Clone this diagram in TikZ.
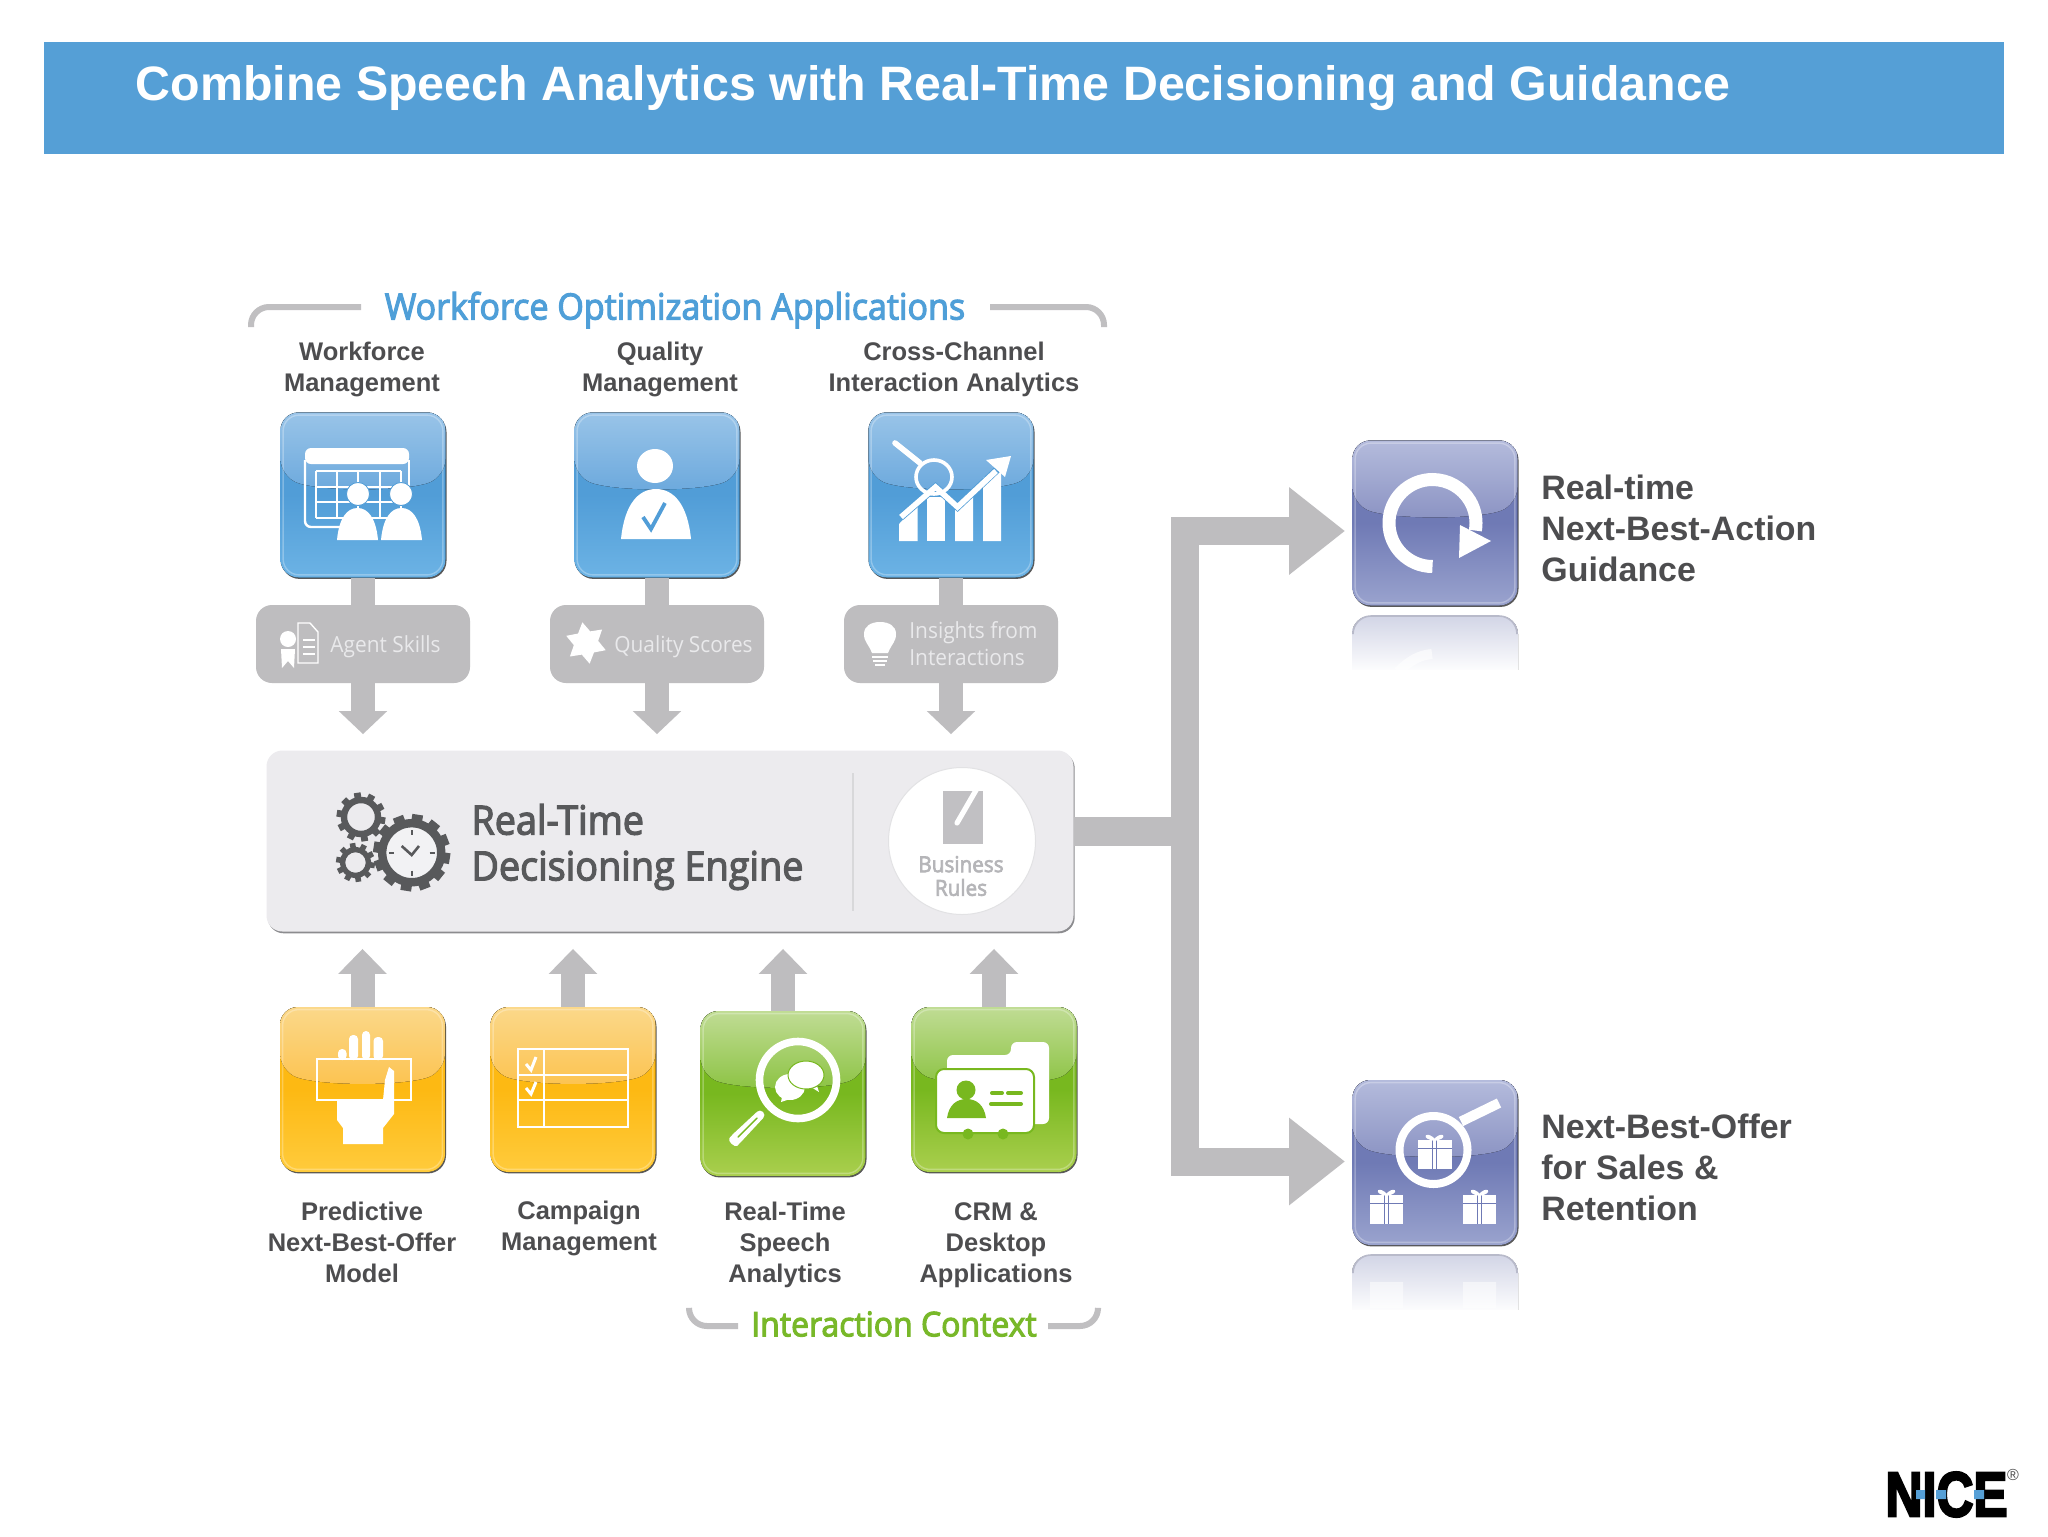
\documentclass[tikz,border=0pt]{standalone}
\usepackage{fontspec}
\setmainfont{Liberation Sans}
\newfontfamily\segfont[FakeStretch=.94]{Open Sans}
\newfontfamily\segsemi[FakeStretch=.94,FakeBold=3]{Open Sans}
\newfontfamily\logofont[BoldFeatures={FakeBold=4}]{Liberation Sans}
\usetikzlibrary{arrows.meta,calc,shadows,shapes.geometric}
\definecolor{bannerblue}{HTML}{559FD6}
\definecolor{stemgray}{HTML}{BEBDBF}
\definecolor{labelgray}{HTML}{4D4D4F}
\definecolor{enginefill}{HTML}{ECEBEE}
\definecolor{bluemid}{HTML}{519DD7}
\definecolor{orangemid}{HTML}{FDB913}
\definecolor{greenmid}{HTML}{78B81F}
\definecolor{purplemid}{HTML}{6F7AB5}
\definecolor{gearcol}{HTML}{58595B}
\definecolor{bluetop}{HTML}{99C4E8}\definecolor{bluegl}{HTML}{6CA9DD}\definecolor{bluebot}{HTML}{6CB3E5}
\definecolor{orangetop}{HTML}{FBD88A}\definecolor{orangegl}{HTML}{FCC350}\definecolor{orangebot}{HTML}{FFCB3C}
\definecolor{greentop}{HTML}{C0DC94}\definecolor{greengl}{HTML}{8CC343}\definecolor{greenbot}{HTML}{AACF4E}
\definecolor{purpletop}{HTML}{B4BBDC}\definecolor{purplegl}{HTML}{8B93C3}\definecolor{purplebot}{HTML}{9AA3CE}
\definecolor{graytxt}{HTML}{E9E9EB}\definecolor{bracketgray}{HTML}{C0BFC1}
\definecolor{headblue}{HTML}{4F9FD8}\definecolor{headgreen}{HTML}{78B829}
\definecolor{engshadow}{HTML}{8C8C8F}\definecolor{reflecttop}{HTML}{D2D5E6}\definecolor{reflectrim}{HTML}{B8BACA}
\definecolor{clockface}{HTML}{F2F2F4}\definecolor{divider}{HTML}{D8D8DA}
\definecolor{ringgray}{HTML}{E2E2E4}\definecolor{notegray}{HTML}{C1C0C3}\definecolor{rulestxt}{HTML}{B5B5B8}
\tikzset{
  appicon/.style n args={4}{rounded corners=9pt,minimum width=82.5pt,minimum height=82.5pt,inner sep=0pt,
    drop shadow={shadow xshift=.5pt,shadow yshift=-.7pt,fill=black!65,opacity=1},
    path picture={
      \fill[top color=#3,bottom color=#4,middle color=#3] (path picture bounding box.south west) rectangle (path picture bounding box.north east);
      \fill[top color=#1,bottom color=#2]
        ($(path picture bounding box.west)+(0,9pt)$) .. controls ($(path picture bounding box.center)+(-20pt,1.7pt)$) and ($(path picture bounding box.center)+(20pt,1.7pt)$) .. ($(path picture bounding box.east)+(0,9pt)$)
        -- (path picture bounding box.north east) -- (path picture bounding box.north west) -- cycle;
      \draw[white,opacity=.28,line width=.7pt,rounded corners=8pt] ($(path picture bounding box.south west)+(1.3pt,1.3pt)$) rectangle ($(path picture bounding box.north east)+(-1.3pt,-1.3pt)$);
    }},
  blueicon/.style={appicon={bluetop}{bluegl}{bluemid}{bluebot}},
  orangeicon/.style={appicon={orangetop}{orangegl}{orangemid}{orangebot}},
  greenicon/.style={appicon={greentop}{greengl}{greenmid}{greenbot}},
  purpleicon/.style={appicon={purpletop}{purplegl}{purplemid}{purplebot}},
  lab/.style={align=center,inner sep=0pt,text=labelgray,font=\bfseries\fontsize{12.75}{15.4}\selectfont},
  rightlab/.style={align=left,anchor=west,inner sep=0pt,text=labelgray,font=\bfseries\fontsize{16.95}{20.5}\selectfont},
  graybox/.style={fill=stemgray,rounded corners=8pt,minimum width=107pt,minimum height=39pt,inner sep=0pt},
  graytext/.style={anchor=west,inner sep=0pt,text=graytxt,font=\segfont\fontsize{11.1}{13.6}\selectfont,align=left},
  stemline/.style={draw=stemgray,line width=12pt},
  fatdown/.style={draw=stemgray,line width=12pt,shorten >=8pt,-{Triangle[width=23.5pt,length=11.5pt,fill=stemgray]}},
  fatup/.style={draw=stemgray,line width=12pt,shorten >=8.5pt,-{Triangle[width=23.5pt,length=12.5pt,fill=stemgray]}},
  bigarrow/.style={draw=stemgray,line width=14pt,shorten >=3.5pt,-{Triangle[width=42pt,length=28pt,fill=stemgray]}},
  bracketline/.style={draw=bracketgray,line width=3pt,rounded corners=9pt},
  whiteln/.style={draw=white,line width=1.2pt},
}
\newcommand\bellbody[5]{% x1 x2 ytop ybot options
  \pgfmathsetmacro\bw{#2-#1}\pgfmathsetmacro\bh{#4-#3}
  \fill[#5] (#1,#4) .. controls ({#1+.05*\bw},{#3+.3*\bh}) and ({#1+.25*\bw},#3) .. ({(#1+#2)/2},#3)
    .. controls ({#2-.25*\bw},#3) and ({#2-.05*\bw},{#3+.3*\bh}) .. (#2,#4) -- cycle;}
\newcommand\gearring[7]{% cx cy rmid ringwidth(pt) rtooth n toothwidth(pt)
  \draw[gearcol,line width=#4pt] (#1,#2) circle[radius=#3];
  \foreach \k in {1,...,#6}{\draw[gearcol,line width=#7pt] (#1,#2) ++({\k*360/#6+9}:#3) -- ++({\k*360/#6+9}:{#5-#3});}}
\newcommand\giftglyph[5]{% cx top w h ribbon colour
  \fill[white] ({#1-#3/2},#2) rectangle ({#1+#3/2},{#2+#4});
  \draw[#5,line width=.5pt] ({#1-#3/2},{#2+.28*#4}) -- ({#1+#3/2},{#2+.28*#4});
  \draw[#5,line width=.5pt] ({#1-2},#2) -- ({#1-2},{#2+#4}) ({#1+2},#2) -- ({#1+2},{#2+#4});
  \draw[white,line width=1pt] (#1,#2) .. controls ({#1-.2*#3},{#2-.9*.3*#4}) and ({#1-.4*#3},{#2-.1*#4}) .. (#1,#2);
  \draw[white,line width=1pt] (#1,#2) .. controls ({#1+.2*#3},{#2-.9*.3*#4}) and ({#1+.4*#3},{#2-.1*#4}) .. (#1,#2);}
\begin{document}
\begin{tikzpicture}[x=.5pt,y=-.5pt]
\useasboundingbox (0,0) rectangle (2048,1536);
\fill[white] (0,0) rectangle (2048,1536);
% banner
\node[fill=bannerblue,minimum width=980pt,minimum height=56pt,inner sep=0pt] (banner) at (1024,98) {};
\node[anchor=west,inner sep=0pt,text=white,font=\bfseries\fontsize{24.16}{28}\selectfont] (title) at (135.5,88) {Combine Speech Analytics with Real-Time Decisioning and Guidance};
% top bracket
\draw[bracketline] (251,327) -- (251,307) -- (361,307);
\draw[bracketline] (990,307) -- (1104,307) -- (1104,327);
\node[inner sep=0pt,text=headblue,font=\segsemi\fontsize{18.1}{20}\selectfont] (wfotitle) at (675,310) {Workforce Optimization Applications};
% labels
\node[lab] (lwfm) at (362,369.5) {Workforce\\Management};
\node[lab] (lqm) at (660,369.5) {Quality\\Management};
\node[lab] (lcc) at (954,369.5) {Cross-Channel\\Interaction Analytics};
% icons
\node[blueicon] (wfm) at (363,495) {};
\node[blueicon] (qm) at (657,495) {};
\node[blueicon] (cc) at (951,495) {};
% gray boxes
\node[graybox] (agent) at (363,644) {};
\node[graybox] (qscores) at (657,644) {};
\node[graybox] (insights) at (951,644) {};
% engine
\node[fill=enginefill,rounded corners=8pt,minimum width=403.5pt,minimum height=90.5pt,inner sep=0pt,
  drop shadow={shadow xshift=.6pt,shadow yshift=-.9pt,fill=engshadow,opacity=1}] (engine) at (670,841) {};
% connectors down
\draw[stemline] (wfm.south) -- (wfm.south |- agent.north);
\draw[stemline] (qm.south) -- (qm.south |- qscores.north);
\draw[stemline] (cc.south) -- (cc.south |- insights.north);
\draw[fatdown] (agent.south) -- (agent.south |- engine.north);
\draw[fatdown] (qscores.south) -- (qscores.south |- engine.north);
\draw[fatdown] (insights.south) -- (insights.south |- engine.north);
% bottom icons
\node[orangeicon] (pred) at (362.5,1089.5) {};
\node[orangeicon] (camp) at (573,1089.5) {};
\node[greenicon] (rtsa) at (783,1093.5) {};
\node[greenicon] (crm) at (994,1089.5) {};
\draw[fatup] (pred.north) -- (pred.north |- engine.south);
\draw[fatup] (camp.north) -- (camp.north |- engine.south);
\draw[fatup] (rtsa.north) -- (rtsa.north |- engine.south);
\draw[fatup] (crm.north) -- (crm.north |- engine.south);
\node[lab] (lpred) at (362,1242.5) {Predictive\\Next-Best-Offer\\Model};
\node[lab,anchor=north] (lcamp) at (579,1201) {Campaign\\Management};
\node[lab] (lrtsa) at (785,1245) {Real-Time\\Speech\\Analytics};
\node[lab] (lcrm) at (996,1245) {CRM \&\\Desktop\\Applications};
% bottom bracket
\draw[bracketline] (689,1309) -- (689,1326) -- (738,1326);
\draw[bracketline] (1048,1326) -- (1098,1326) -- (1098,1309);
\node[inner sep=0pt,text=headgreen,font=\segsemi\fontsize{17}{20}\selectfont] (ictitle) at (894,1324) {Interaction Context};
% right icons, reflections
\fill[top color=reflecttop,bottom color=white] (1352,673) [rounded corners=9pt] -- (1352,616) -- (1518,616) [sharp corners] -- (1518,673) -- cycle;
\fill[top color=reflecttop,bottom color=white] (1352,1313) [rounded corners=9pt] -- (1352,1255) -- (1518,1255) [sharp corners] -- (1518,1313) -- cycle;
\draw[reflectrim,line width=.8pt,rounded corners=9pt] (1353,632) -- (1353,616) -- (1517,616) -- (1517,632);
\draw[reflectrim,line width=.8pt,rounded corners=9pt] (1353,1271) -- (1353,1255) -- (1517,1255) -- (1517,1271);
\fill[white,opacity=.5] (1370,1282) rectangle (1403,1308) (1463,1282) rectangle (1496,1308);
\draw[white,opacity=.6,line width=5pt] (1398,672) .. controls (1410,660) and (1420,655) .. (1432,654);
\fill[white] (1348,670) rectangle (1522,677);
\fill[white] (1348,1310) rectangle (1522,1317);
\node[purpleicon] (nba) at (1435,523) {};
\node[purpleicon] (nbo) at (1435,1162.5) {};
\node[rightlab] (lnba) at (1541,528) {Real-time\\Next-Best-Action\\Guidance};
\node[rightlab] (lnbo) at (1541,1167.5) {Next-Best-Offer\\for Sales \&\\Retention};
% big arrows
\coordinate (junction) at (1185,831);
\coordinate (tipa) at (1352,531);
\coordinate (tipb) at (1352,1161.5);
\draw[bigarrow] (junction) |- (tipa);
\draw[bigarrow] (junction) |- (tipb);
\draw[draw=stemgray,line width=14.5pt] (engine.east |- junction) -- (junction);
% === glyphs: WFM
\draw[whiteln,rounded corners=3pt] (305,460) -- (305,527) -- (345,527);
\draw[whiteln] (409,460) -- (409,500);
\fill[white,rounded corners=3pt] (305,464) -- (305,448) -- (409,448) -- (409,464) -- cycle;
\foreach \gx in {316,337,358,380,401}{\draw[white,line width=.9pt] (\gx,471) -- (\gx,518);}
\foreach \gy in {471,487,502,518}{\draw[white,line width=.9pt] (316,\gy) -- (401,\gy);}
\fill[white,draw=bluemid,line width=.4pt] (358,494) circle[radius=11.5];
\fill[white,draw=bluemid,line width=.4pt] (401,494) circle[radius=11.5];
\bellbody{337}{378}{508}{540}{white}
\bellbody{381}{422}{508}{540}{white}
% === glyphs: QM
\fill[white] (655,466) ellipse[x radius=18,y radius=17];
\bellbody{621}{691}{489}{539}{white}
\draw[bluemid,line width=1.9pt] (643,517) -- (651,529) -- (665,503);
% === glyphs: CC
\fill[white] (899,524) -- (917.5,505) -- (917.5,541) -- (899,541) -- cycle;
\fill[white] (927,497) -- (945,497) -- (945,541) -- (927,541) -- cycle;
\fill[white] (955,510) -- (973,496) -- (973,541) -- (955,541) -- cycle;
\fill[white] (983,478) -- (1001,465) -- (1001,541) -- (983,541) -- cycle;
\draw[bluemid,line width=3.6pt] (901,517) -- (935.5,487) -- (957.5,507) -- (1000,467);
\draw[white,line width=1.8pt] (934,477) ellipse[x radius=18,y radius=17];
\draw[white,line width=2.8pt,line cap=round] (920,463) -- (895,443);
\draw[white,line width=2.8pt] (901,517) -- (935.5,487) -- (957.5,507) -- (996,471);
\fill[white] (1011,456) -- (986,460) -- (1005,477) -- cycle;
% === glyphs: agent skills
\draw[white,line width=.7pt,fill=stemgray] (298,623) -- (310,623) -- (318,632) -- (318,663) -- (298,663) -- cycle;
\foreach \ly in {640,647,654}{\draw[white,line width=.7pt] (303,\ly) -- (315,\ly);}
\fill[white] (288,639) circle[radius=8];
\fill[white] (281,649) -- (295,649) -- (294,668) -- (288,661) -- (282,668) -- cycle;
\node[graytext] (tagent) at (330,647) {Agent Skills};
% star
\node[star,star points=6,star point ratio=1.7,fill=white,minimum size=21pt,inner sep=0pt,rotate=10] (starq) at (586,643) {};
\node[graytext] (tqs) at (614,647) {Quality Scores};
% bulb
\fill[white] (872,653) .. controls (868,643) and (864,642) .. (864,634) .. controls (864,626) and (871,622) .. (880,622) .. controls (889,622) and (896,626) .. (896,634) .. controls (896,642) and (892,643) .. (888,653) -- cycle;
\foreach \ly/\lh in {657/8,661/7,665/5}{\draw[white,line width=1pt] ({880-\lh},\ly) -- ({880+\lh},\ly);}
\node[graytext] (tins) at (909,643.5) {Insights from\\Interactions};
% === engine glyphs
\gearring{361}{817}{17}{3.2}{24.5}{10}{3.4}
\gearring{355.5}{862.5}{13}{2.7}{19.5}{10}{2.8}
\fill[clockface] (411.7,852.7) circle[radius=26];
\gearring{411.7}{852.7}{29.5}{4.2}{38.5}{12}{5.4}
\draw[gearcol,line width=1.3pt] (401.7,846) -- (411.7,855) -- (419,846);
\foreach \ta in {0,90,180,270}{\draw[gearcol,line width=.9pt] (411.7,852.7) ++(\ta:18) -- ++(\ta:5);}
\node[anchor=west,align=left,inner sep=0pt,text=gearcol,font=\segsemi\fontsize{20.1}{22.9}\selectfont] (tengine) at (471,847) {Real-Time\\Decisioning Engine};
\draw[divider,line width=.7pt] (853,773) -- (853,911);
\node[circle,fill=white,draw=ringgray,line width=.5pt,minimum size=73.5pt,inner sep=0pt] (rules) at (962,841) {};
\fill[notegray] (943,791) rectangle (983,844);
\draw[white,line width=2.6pt,line cap=round] (979,785) -- (957,823);
\node[align=center,inner sep=0pt,text=rulestxt,font=\segsemi\fontsize{11}{11.8}\selectfont] (trules) at (961,876) {Business\\Rules};
% === pred glyph
\foreach \fa/\fb/\ft in {338/346.5/1049,349/358/1035,362/370/1031,373.5/383/1037}{
  \fill[white,rounded corners=2pt] (\fa,1060) -- (\fa,\ft) -- (\fb,\ft) -- (\fb,1060) -- cycle;}
\draw[white,line width=1.3pt] (317,1059) rectangle (411,1100);
\fill[white] (337,1100) -- (383,1100) -- (385,1080) -- (389,1067) -- (394,1071) -- (394,1114) -- (383,1128) -- (383,1144) -- (343,1144) -- (343,1128) -- (337,1120) -- cycle;
% === campaign glyph
\draw[white,line width=1.4pt] (518,1049) rectangle (628,1127);
\draw[white,line width=1.4pt] (518,1075) -- (628,1075) (518,1100) -- (628,1100) (544,1049) -- (544,1127);
\draw[white,line width=1.5pt] (526,1064) -- (531,1070) -- (536,1057);
\draw[white,line width=1.5pt] (526,1088) -- (531,1094) -- (536,1082);
% === rtsa glyph
\draw[white,line width=3.8pt] (798,1080) circle[radius=38.5];
\fill[white,rounded corners=2pt] (760,1109) -- (766,1115) -- (740,1143) .. controls (735,1148) and (727,1141) .. (732,1135) -- cycle;
\draw[greenmid,line width=.7pt,line cap=round] (757,1118) -- (738,1137);
\fill[white] (790,1087) ellipse[x radius=15,y radius=13];
\fill[white] (781,1102) -- (783,1092) -- (793,1098) -- cycle;
\fill[white] (819,1092) -- (806,1084) -- (815,1080) -- cycle;
\fill[white,draw=greenmid,line width=.5pt] (806,1075) ellipse[x radius=18,y radius=14];
% === crm glyph
\fill[white,rounded corners=3pt] (947,1124) -- (947,1055) -- (1011,1055) -- (1011,1042) -- (1049,1042) -- (1049,1124) -- cycle;
\fill[white,draw=greenmid,line width=1pt,rounded corners=4pt] (936,1133) -- (936,1069) -- (1034,1069) -- (1034,1133) -- cycle;
\fill[greenmid] (968,1134) circle[radius=5.5] (1003,1134) circle[radius=5.5];
\fill[greenmid] (966,1090) circle[radius=9.5];
\bellbody{947}{986}{1099}{1118}{greenmid}
\draw[greenmid,line width=2pt,line cap=round] (992,1093) -- (1002,1093) (1008,1093) -- (1021,1093) (991,1104) -- (1021,1104);
% === nba glyph
\draw[white,line width=6.5pt] (1432.5,566.5) arc[start angle=90,end angle=370,radius=43.5];
\fill[white] (1460,525) -- (1491,541) -- (1459,558) -- cycle;
% === nbo glyph
\draw[white,line width=4pt] (1433.5,1150) circle[radius=34];
\draw[white,line width=5pt] (1461,1121.5) -- (1499,1103);
\giftglyph{1434.5}{1140}{34}{29}{purplemid}
\giftglyph{1386.5}{1195}{33}{29}{purplemid}
\giftglyph{1479.5}{1195}{33}{29}{purplemid}
% === logo
\node[inner sep=0pt,anchor=center,font=\logofont\bfseries\fontsize{31.5}{32}\selectfont,xscale=.81] (nicelogo) at (1946.5,1494.5) {NICE};
\fill[bannerblue] (1916,1490) rectangle (1925,1499) (1936,1490) rectangle (1946,1499) (1974,1490) rectangle (1984,1499);
\node[inner sep=0pt,text=black!70,font=\fontsize{8}{9}\selectfont] (reg) at (2013,1475) {®};
\end{tikzpicture}
\end{document}
